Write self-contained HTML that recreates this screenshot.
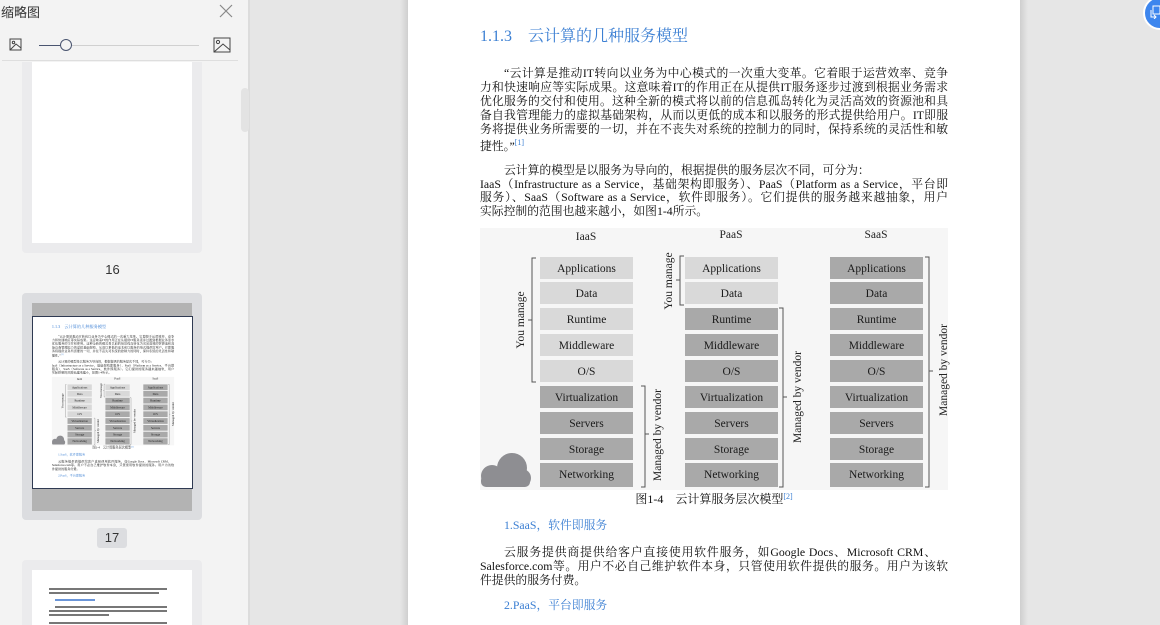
<!DOCTYPE html>
<html><head><meta charset="utf-8">
<style>
*{margin:0;padding:0;box-sizing:border-box}
html{overflow:hidden;width:1160px;height:625px}
body{width:1160px;height:625px;overflow:hidden;background:#e6e6e6;position:relative;font-family:"Liberation Sans","Noto Sans CJK SC",sans-serif}
#side{position:absolute;left:0;top:0;width:250px;height:625px;background:#f3f3f3;border-right:2px solid #dcdcdc}
.abs{position:absolute}
.page{position:absolute;width:612px;height:645px;background:#fff;overflow:hidden;font-family:"Liberation Serif","Noto Serif CJK SC",serif;color:#111}
.ln{position:absolute;left:72px;width:468px;font-size:11.8px;line-height:14px;white-space:nowrap}
.j{text-align:justify;text-align-last:justify;white-space:normal;height:14px;overflow:visible}
.blue{color:#3b7fd3}
sup{font-size:8px;color:#3b7fd3}
</style></head><body>

<div id="side">
  <div class="abs" style="left:1px;top:2px;font-size:13px;color:#333">缩略图</div>
  <svg class="abs" style="left:219px;top:4px" width="14" height="14"><path d="M1 1L13 13M13 1L1 13" stroke="#888" stroke-width="1.2"/></svg>
  <svg class="abs" style="left:9px;top:38px" width="14" height="14"><rect x="1" y="1" width="11" height="11" fill="none" stroke="#444"/><circle cx="4.5" cy="4.5" r="1.2" fill="none" stroke="#444"/><path d="M1 12L7 6L12 10" fill="none" stroke="#444"/></svg>
  <div class="abs" style="left:39px;top:45px;width:160px;height:1px;background:#d0d0d0"></div>
  <div class="abs" style="left:39px;top:45px;width:22px;height:1px;background:#4a5570"></div>
  <div class="abs" style="left:60px;top:39px;width:12px;height:12px;border-radius:50%;border:1.3px solid #4a5570;background:#f3f3f3"></div>
  <svg class="abs" style="left:213px;top:37px" width="19" height="17"><rect x="1" y="1" width="16" height="14" fill="none" stroke="#444"/><circle cx="5" cy="5" r="1.6" fill="none" stroke="#444"/><path d="M1 15L10 7L17 13" fill="none" stroke="#444"/></svg>
  <div class="abs" style="left:2px;top:60px;width:236px;height:1px;background:#dedede"></div>

  <div class="abs" style="left:22px;top:62px;width:180px;height:191px;background:#ebebed;border-radius:0 0 4px 4px"></div>
  <div class="abs" style="left:32px;top:62px;width:160px;height:181px;background:#fff"></div>
  <div class="abs" style="left:0;top:262px;width:225px;text-align:center;font-size:13px;color:#333">16</div>

  <div class="abs" style="left:22px;top:293px;width:180px;height:227px;background:#dcdde0;border-radius:4px"></div>
  <div class="abs" style="left:32px;top:303px;width:160px;height:208px;background:#b3b3b3"></div>
  <div class="abs" style="left:32px;top:316px;width:161px;height:173px;border:1.5px solid #2f3a52;background:#fff;overflow:hidden">
    <div id="thumb" style="position:absolute;left:0;top:-5px;transform:scale(0.2614);transform-origin:0 0"></div>
  </div>
  <div class="abs" style="left:97px;top:528px;width:30px;height:20px;background:#dcdde0;border-radius:3px;text-align:center;font-size:13px;line-height:20px;color:#333">17</div>

  <div class="abs" style="left:22px;top:560px;width:180px;height:70px;background:#ebebed;border-radius:4px"></div>
  <div class="abs" style="left:32px;top:570px;width:160px;height:60px;background:#fff">
    <div style="position:absolute;left:17px;top:18px;width:118px;height:2px;background:#777"></div>
    <div style="position:absolute;left:17px;top:22px;width:110px;height:2px;background:#777"></div>
    <div style="position:absolute;left:23px;top:29px;width:40px;height:2px;background:#6a95d8"></div>
    <div style="position:absolute;left:23px;top:36px;width:112px;height:2px;background:#777"></div>
    <div style="position:absolute;left:17px;top:40px;width:118px;height:2px;background:#777"></div>
    <div style="position:absolute;left:17px;top:44px;width:60px;height:2px;background:#777"></div>
    <div style="position:absolute;left:17px;top:52px;width:118px;height:2px;background:#777"></div>
  </div>
  <div class="abs" style="left:241px;top:88px;width:8px;height:44px;background:#e3e3e3;border-radius:4px"></div>
</div>

<div class="abs" style="left:400px;top:0;width:8px;height:625px;background:linear-gradient(to right,#e6e6e6,#cfcfcf)"></div>
<div class="abs" style="left:1020px;top:0;width:8px;height:625px;background:linear-gradient(to left,#e6e6e6,#cfcfcf)"></div>

<div class="page" id="main" style="left:408px;top:-20px">
  <div class="ln blue" style="top:47px;font-size:16px;line-height:20px">1.1.3　云计算的几种服务模型</div>
  <div class="ln j" style="top:86px;padding-left:24px">“云计算是推动IT转向以业务为中心模式的一次重大变革。它着眼于运营效率、竞争</div>
  <div class="ln j" style="top:100px">力和快速响应等实际成果。这意味着IT的作用正在从提供IT服务逐步过渡到根据业务需求</div>
  <div class="ln j" style="top:114px">优化服务的交付和使用。这种全新的模式将以前的信息孤岛转化为灵活高效的资源池和具</div>
  <div class="ln j" style="top:128px">备自我管理能力的虚拟基础架构，从而以更低的成本和以服务的形式提供给用户。IT即服</div>
  <div class="ln j" style="top:142px">务将提供业务所需要的一切，并在不丧失对系统的控制力的同时，保持系统的灵活性和敏</div>
  <div class="ln" style="top:156px">捷性。”<sup>[1]</sup></div>
  <div class="ln" style="top:183px;padding-left:24px">云计算的模型是以服务为导向的，根据提供的服务层次不同，可分为：</div>
  <div class="ln j" style="top:197px">IaaS（Infrastructure as a Service，基础架构即服务）、PaaS（Platform as a Service，平台即</div>
  <div class="ln j" style="top:210px">服务）、SaaS（Software as a Service，软件即服务）。它们提供的服务越来越抽象，用户</div>
  <div class="ln" style="top:224px">实际控制的范围也越来越小，如图1-4所示。</div>

  <svg class="abs" style="left:0;top:0" width="612" height="645" viewBox="408 -20 612 645" font-family="Liberation Serif, Noto Serif CJK SC, serif">
    <rect x="480" y="228" width="468" height="262" fill="#f6f6f6"/>
    <g font-size="11.5" fill="#222" text-anchor="middle">
      <text x="586" y="240">IaaS</text><text x="731" y="238">PaaS</text><text x="876" y="238">SaaS</text>
    </g>
    <g id="cols" font-size="11.5" fill="#1a1a1a" text-anchor="middle"></g>
    <g stroke="#555" stroke-width="1" fill="none">
      <path d="M536 258H532V382H536M532 320H528"/>
      <path d="M641 386H645V487H641M645 434H649"/>
      <path d="M684 256H680V305H684M680 280H676"/>
      <path d="M779 308H783V487H779M783 397H787"/>
      <path d="M925 257H929V487H925M929 371H933"/>
    </g>
    <g font-size="11.5" fill="#222" text-anchor="middle">
      <text transform="translate(524,320) rotate(-90)">You manage</text>
      <text transform="translate(661,435) rotate(-90)">Managed by vendor</text>
      <text transform="translate(672,281) rotate(-90)">You manage</text>
      <text transform="translate(801,397) rotate(-90)">Managed by vendor</text>
      <text transform="translate(947,370) rotate(-90)">Managed by vendor</text>
    </g>
    <g fill="#8e8e92">
      <circle cx="492" cy="476" r="11"/><circle cx="512" cy="468" r="15"/><circle cx="522" cy="478" r="9"/>
      <rect x="481" y="475" width="49" height="12" rx="5"/>
    </g>
    <text x="714" y="503" font-size="12" text-anchor="middle" fill="#111">图1-4　云计算服务层次模型<tspan font-size="8" fill="#3b7fd3" dy="-4">[2]</tspan></text>
  </svg>

  <div class="ln blue" style="top:538px;padding-left:24px">1.SaaS，软件即服务</div>
  <div class="ln j" style="top:565px;padding-left:24px;width:456px">云服务提供商提供给客户直接使用软件服务，如Google Docs、Microsoft CRM、</div>
  <div class="ln j" style="top:579px">Salesforce.com等。用户不必自己维护软件本身，只管使用软件提供的服务。用户为该软</div>
  <div class="ln" style="top:593px">件提供的服务付费。</div>
  <div class="ln blue" style="top:618px;padding-left:24px">2.PaaS，平台即服务</div>
</div>

<div class="abs" style="left:1143px;top:-4px;width:34px;height:34px;border-radius:50%;background:#3d86ee;border:2px solid #fff"></div>
<svg class="abs" style="left:1150px;top:5px" width="10" height="14"><rect x="3" y="1" width="7" height="8" fill="none" stroke="#fff"/><path d="M1 5V12H6M4 10L6 12L4 14" fill="none" stroke="#fff"/></svg>

<script>
var rows=["Applications","Data","Runtime","Middleware","O/S","Virtualization","Servers","Storage","Networking"];
var tops=[257,282,308,334,360,386,412,438,463];
var xs=[540,685,830],light=[5,2,0];
var g=document.getElementById("cols"),s="";
for(var c=0;c<3;c++)for(var r=0;r<9;r++){
 var f=r<light[c]?"#d9d9d9":"#a9a9a9";
 var h=r==8?24:22;
 s+='<rect x="'+xs[c]+'" y="'+tops[r]+'" width="93" height="'+h+'" fill="'+f+'"/>';
 s+='<text x="'+(xs[c]+46.5)+'" y="'+(tops[r]+15)+'">'+rows[r]+'</text>';
}
g.innerHTML=s;
var m=document.getElementById("main").cloneNode(true);
m.id="";m.style.left="0";m.style.top="0";
document.getElementById("thumb").appendChild(m);
</script>
</body></html>
